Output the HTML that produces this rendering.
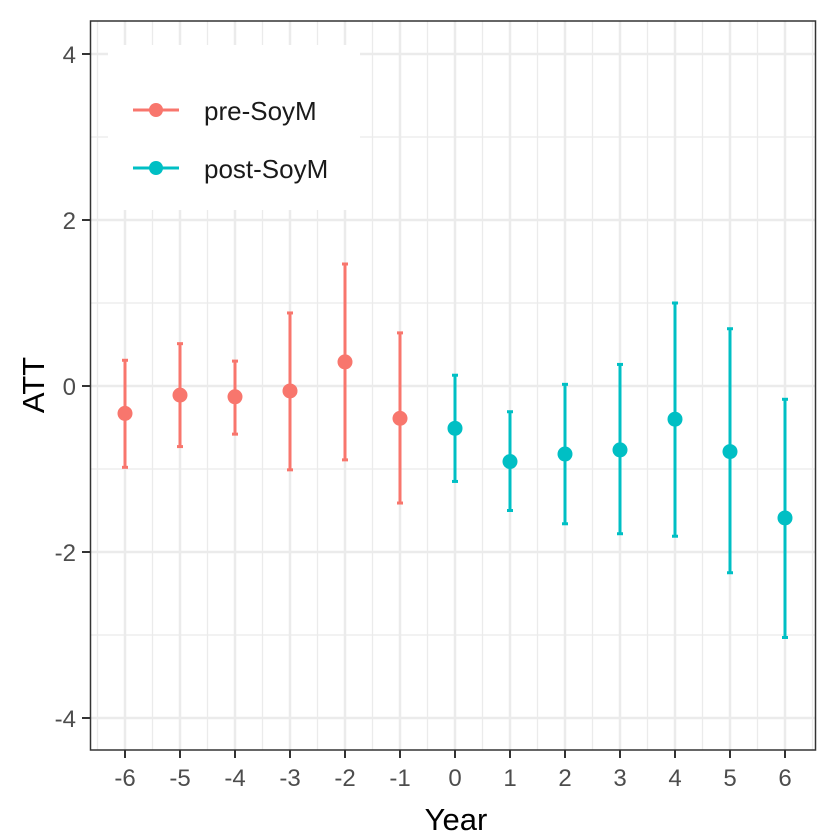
<!DOCTYPE html>
<html><head><meta charset="utf-8"><style>
html,body{margin:0;padding:0;background:#fff;}
svg{display:block;font-family:"Liberation Sans",Arial,sans-serif;}
</style></head><body>
<svg id="chart" width="825" height="835">
<g id="grid"></g>
<rect x="108" y="45" width="252" height="165" fill="#fff"/>
<g id="marks"></g>
<rect x="90.5" y="21" width="725" height="729" fill="none" stroke="#333" stroke-width="1.5"/>
<g id="axes"></g>
<text x="456" y="830" font-size="31" text-anchor="middle" fill="#000">Year</text>
<text transform="translate(44,385) rotate(-90)" font-size="31" text-anchor="middle" fill="#000">ATT</text>
<g>
<g>
<line x1="133" y1="110" x2="179" y2="110" stroke="#F8766D" stroke-width="3"/>
<circle cx="156" cy="110" r="7" fill="#F8766D"/>
<text x="204" y="120" font-size="26" fill="#1a1a1a">pre-SoyM</text></g>
<g>
<line x1="133" y1="168" x2="179" y2="168" stroke="#00BFC4" stroke-width="3"/>
<circle cx="156" cy="168" r="7" fill="#00BFC4"/>
<text x="204" y="178" font-size="26" fill="#1a1a1a">post-SoyM</text></g>
</g>
</svg>
<script>
const years=[-6,-5,-4,-3,-2,-1,0,1,2,3,4,5,6];
const att=[-0.33,-0.11,-0.13,-0.06,0.29,-0.39,-0.51,-0.91,-0.82,-0.77,-0.40,-0.79,-1.59];
const lower=[-0.98,-0.73,-0.58,-1.01,-0.89,-1.41,-1.15,-1.50,-1.66,-1.78,-1.81,-2.25,-3.03];
const upper=[0.31,0.51,0.30,0.88,1.47,0.64,0.13,-0.31,0.02,0.26,1.00,0.69,-0.16];
const yTicks=[-4,-2,0,2,4];
const xs=v=>455+55*v;
const ys=v=>386-83*v;
const NS="http://www.w3.org/2000/svg";
function mk(t,a,p){const e=document.createElementNS(NS,t);for(const k in a)e.setAttribute(k,a[k]);p.appendChild(e);return e;}
const grid=document.getElementById('grid'),marks=document.getElementById('marks'),axes=document.getElementById('axes');
for(let v=-6.5;v<=6.5;v+=0.5){const l=mk('line',{x1:xs(v),x2:xs(v),y1:21,y2:750,stroke:'#ebebeb','stroke-width':Number.isInteger(v)?2.5:1.3},grid);

}
for(let v=-4.5;v<=4.5;v+=1){const l=mk('line',{x1:90,x2:815,y1:ys(v+0.5),y2:ys(v+0.5),stroke:'#ebebeb','stroke-width':(v+0.5)%2===0?2.5:1.3},grid);

}
years.forEach((yr,i)=>{const c=yr<0?'#F8766D':'#00BFC4';const x=xs(yr);
const g=mk('g',{},marks);


mk('line',{x1:x,x2:x,y1:ys(upper[i]),y2:ys(lower[i]),stroke:c,'stroke-width':3},g);
mk('line',{x1:x-3,x2:x+3,y1:ys(upper[i]),y2:ys(upper[i]),stroke:c,'stroke-width':3},g);
mk('line',{x1:x-3,x2:x+3,y1:ys(lower[i]),y2:ys(lower[i]),stroke:c,'stroke-width':3},g);
const p=mk('circle',{cx:x,cy:ys(att[i]),r:7.5,fill:c},g);


const tk=mk('line',{x1:x,x2:x,y1:750,y2:758,stroke:'#333','stroke-width':2},axes);


const t=mk('text',{x:x,y:786,'font-size':24,'text-anchor':'middle',fill:'#4d4d4d'},axes);t.textContent=yr;

});
yTicks.forEach(v=>{const tk=mk('line',{x1:82,x2:90,y1:ys(v),y2:ys(v),stroke:'#333','stroke-width':2},axes);


const t=mk('text',{x:76,y:ys(v)+9,'font-size':24,'text-anchor':'end',fill:'#4d4d4d'},axes);t.textContent=v;

});
</script>
</body></html>
